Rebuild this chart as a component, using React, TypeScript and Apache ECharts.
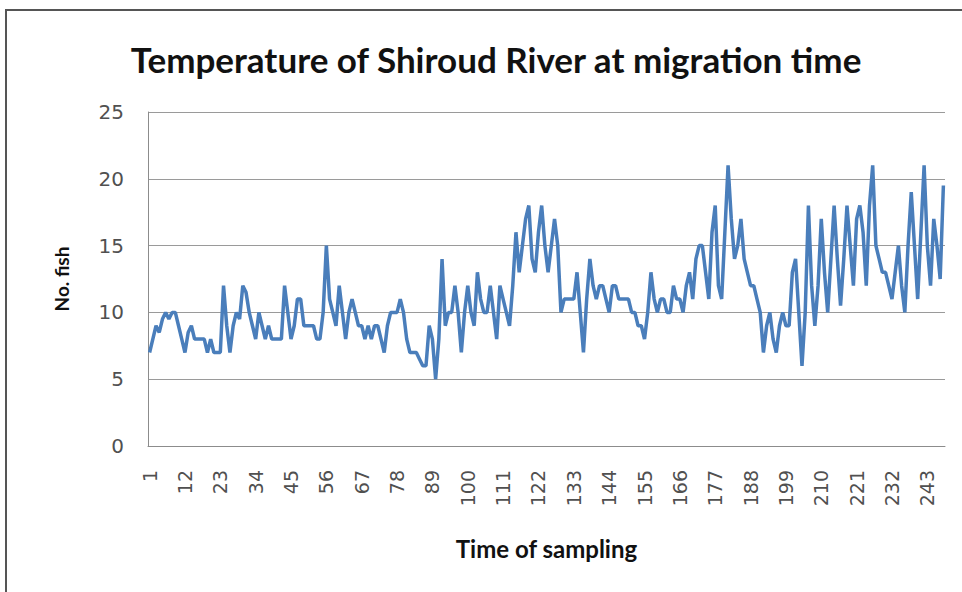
import React, { useEffect, useRef } from "react";
import * as echarts from "echarts";

const titleText = "Temperature of Shiroud River at migration time";
const yName = "No. fish";
const xName = "Time of sampling";

const values: number[] = [
  7, 8, 9, 8.5, 9.5, 10, 9.5, 10, 10, 9, 8, 7, 8.5, 9, 8, 8, 8, 8, 7, 8,
  7, 7, 7, 12, 9, 7, 9, 10, 9.5, 12, 11.5, 10, 9, 8, 10, 9, 8, 9, 8, 8,
  8, 8, 12, 10, 8, 9, 11, 11, 9, 9, 9, 9, 8, 8, 10, 15, 11, 10, 9, 12,
  10, 8, 10, 11, 10, 9, 9, 8, 9, 8, 9, 9, 8, 7, 9, 10, 10, 10, 11, 10,
  8, 7, 7, 7, 6.5, 6, 6, 9, 8, 5, 8, 14, 9, 10, 10, 12, 10, 7, 10, 12,
  10, 9, 13, 11, 10, 10, 12, 10, 8, 12, 11, 10, 9, 12, 16, 13, 15, 17, 18, 14,
  13, 16, 18, 15, 13, 15, 17, 15, 10, 11, 11, 11, 11, 13, 10, 7, 11, 14, 12, 11,
  12, 12, 11, 10, 12, 12, 11, 11, 11, 11, 10, 10, 9, 9, 8, 10, 13, 11, 10, 11,
  11, 10, 10, 12, 11, 11, 10, 12, 13, 11, 14, 15, 15, 13, 11, 16, 18, 12, 11, 16,
  21, 17, 14, 15, 17, 14, 13, 12, 12, 11, 10, 7, 9, 10, 8, 7, 9, 10, 9, 9,
  13, 14, 10, 6, 10, 18, 12, 9, 12, 17, 13, 10, 14, 18, 14, 10.5, 14, 18, 15, 12,
  17, 18, 16, 12, 18, 21, 15, 14, 13, 13, 12, 11, 13, 15, 12, 10, 15, 19, 15, 11,
  16, 21, 15, 12, 17, 15, 12.5, 19.5,
];

const categories: string[] = values.map((_, i) => String(i + 1));

export default function App() {
  const ref = useRef<HTMLDivElement>(null);
  useEffect(() => {
    if (!ref.current) return;
    const chart = echarts.init(ref.current, undefined, { renderer: "svg" });
    chart.setOption({
      animation: false,
      backgroundColor: "#ffffff",
      title: {
        text: titleText,
        left: 491,
        top: 36,
        textAlign: "center",
        textStyle: {
          fontFamily: "Lato",
          fontSize: 35,
          fontWeight: "bold",
          color: "#111111",
        },
      },
      graphic: [
        {
          type: "rect",
          shape: { x: 6, y: 10, width: 1000, height: 640 },
          style: { fill: "none", stroke: "#555555", lineWidth: 2 },
          silent: true,
        },
      ],
      grid: { left: 148, right: 17, top: 112, bottom: 146 },
      xAxis: {
        type: "category",
        data: categories,
        boundaryGap: true,
        name: xName,
        nameLocation: "middle",
        nameGap: 90,
        nameTextStyle: {
          fontFamily: "Lato",
          fontSize: 24,
          fontWeight: "bold",
          color: "#111111",
        },
        axisLine: { lineStyle: { color: "#8c8c8c", width: 1 } },
        axisTick: { show: false },
        axisLabel: {
          interval: 10,
          rotate: 90,
          fontFamily: "DejaVu Sans",
          fontSize: 19,
          color: "#505050",
          margin: 24,
        },
      },
      yAxis: {
        type: "value",
        min: 0,
        max: 25,
        interval: 5,
        name: yName,
        nameLocation: "middle",
        nameGap: 77,
        nameRotate: 90,
        nameTextStyle: {
          fontFamily: "Lato",
          fontSize: 19,
          fontWeight: "bold",
          color: "#111111",
        },
        axisLine: { show: true, lineStyle: { color: "#8c8c8c", width: 1 } },
        axisTick: { show: false },
        splitLine: { lineStyle: { color: "#9a9a9a", width: 1 } },
        axisLabel: {
          fontFamily: "DejaVu Sans",
          fontSize: 20,
          color: "#505050",
          margin: 24,
        },
      },
      series: [
        {
          type: "line",
          data: values,
          symbol: "none",
          lineStyle: { color: "#4a7ebb", width: 3.5 },
          itemStyle: { color: "#4a7ebb" },
        },
      ],
    });
    return () => chart.dispose();
  }, []);
  return (
    <div
      ref={ref}
      style={{ position: "fixed", left: 0, top: 0, width: 962, height: 592 }}
    />
  );
}
